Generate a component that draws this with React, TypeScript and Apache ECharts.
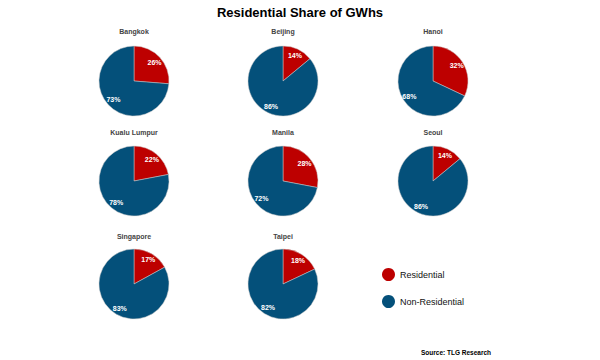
import React, { useEffect, useRef } from "react";
import * as echarts from "echarts";

const cities = ["Bangkok", "Beijing", "Hanoi", "Kualu Lumpur", "Manila", "Seoul", "Singapore", "Taipei"];
const residential = [26, 14, 32, 22, 28, 14, 17, 18];
const nonResidential = [73, 86, 68, 78, 72, 86, 83, 82];
const seriesNames = ["Residential", "Non-Residential"];
const colors = ["#BD0000", "#04507A"];

const colX = [134, 283, 433];
const rowY = [81, 181, 284];
const titleY = [31, 132, 236];
const R = 35;

export default function App() {
  const ref = useRef<HTMLDivElement>(null);
  useEffect(() => {
    if (!ref.current) return;
    const chart = echarts.init(ref.current, null, { renderer: "svg" });
    const series: any[] = [];
    const graphics: any[] = [
      {
        type: "text",
        style: {
          x: 300, y: 12, text: "Residential Share of GWhs", textAlign: "center", textVerticalAlign: "middle",
          font: "bold 13px 'Liberation Sans', Arial, sans-serif", fill: "#000",
        },
      },
      {
        type: "text",
        style: {
          x: 421, y: 352, text: "Source: TLG Research", textAlign: "left", textVerticalAlign: "middle",
          font: "bold 6.5px 'Liberation Sans', Arial, sans-serif", fill: "#000",
        },
      },
    ];
    cities.forEach((city, i) => {
      const cx = colX[i % 3];
      const cy = rowY[Math.floor(i / 3)];
      const data = [
        { name: seriesNames[0], value: residential[i], itemStyle: { color: colors[0] } },
        { name: seriesNames[1], value: nonResidential[i], itemStyle: { color: colors[1] } },
      ];
      series.push({
        type: "pie",
        name: city,
        center: [cx, cy],
        radius: [0, R],
        startAngle: 90,
        clockwise: true,
        label: { show: false },
        labelLine: { show: false },
        itemStyle: { borderColor: "#c8c8c8", borderWidth: 0.5 },
        emphasis: { disabled: true },
        data,
      });
      series.push({
        type: "pie",
        name: city + " labels",
        center: [cx, cy],
        radius: [15, R],
        startAngle: 90,
        clockwise: true,
        silent: true,
        label: {
          show: true,
          position: "inside",
          formatter: "{c}%",
          color: "#fff",
          fontSize: 7,
          fontWeight: "bold",
          fontFamily: "'Liberation Sans', Arial, sans-serif",
        },
        labelLine: { show: false },
        itemStyle: { color: "rgba(0,0,0,0)", borderWidth: 0 },
        emphasis: { disabled: true },
        data: data.map((d) => ({ name: d.name, value: d.value, itemStyle: { color: "rgba(0,0,0,0)", borderWidth: 0 } })),
      });
      graphics.push({
        type: "text",
        style: {
          x: cx, y: titleY[Math.floor(i / 3)], text: city, textAlign: "center", textVerticalAlign: "middle",
          font: "bold 7px 'Liberation Sans', Arial, sans-serif", fill: "#444",
        },
      });
    });
    chart.setOption({
      animation: false,
      backgroundColor: "#fff",
      legend: {
        orient: "vertical",
        left: 377,
        top: 263,
        itemWidth: 13,
        itemHeight: 13,
        itemGap: 14,
        icon: "circle",
        itemStyle: { borderWidth: 0 },
        textStyle: { fontSize: 9, color: "#111", fontFamily: "'Liberation Sans', Arial, sans-serif" },
        data: [
          { name: seriesNames[0], itemStyle: { color: colors[0], borderWidth: 0 } },
          { name: seriesNames[1], itemStyle: { color: colors[1], borderWidth: 0 } },
        ],
        selectedMode: false,
      },
      graphic: graphics,
      series,
    });
    return () => chart.dispose();
  }, []);
  return <div ref={ref} style={{ position: "fixed", left: 0, top: 0, width: 600, height: 360 }} />;
}
